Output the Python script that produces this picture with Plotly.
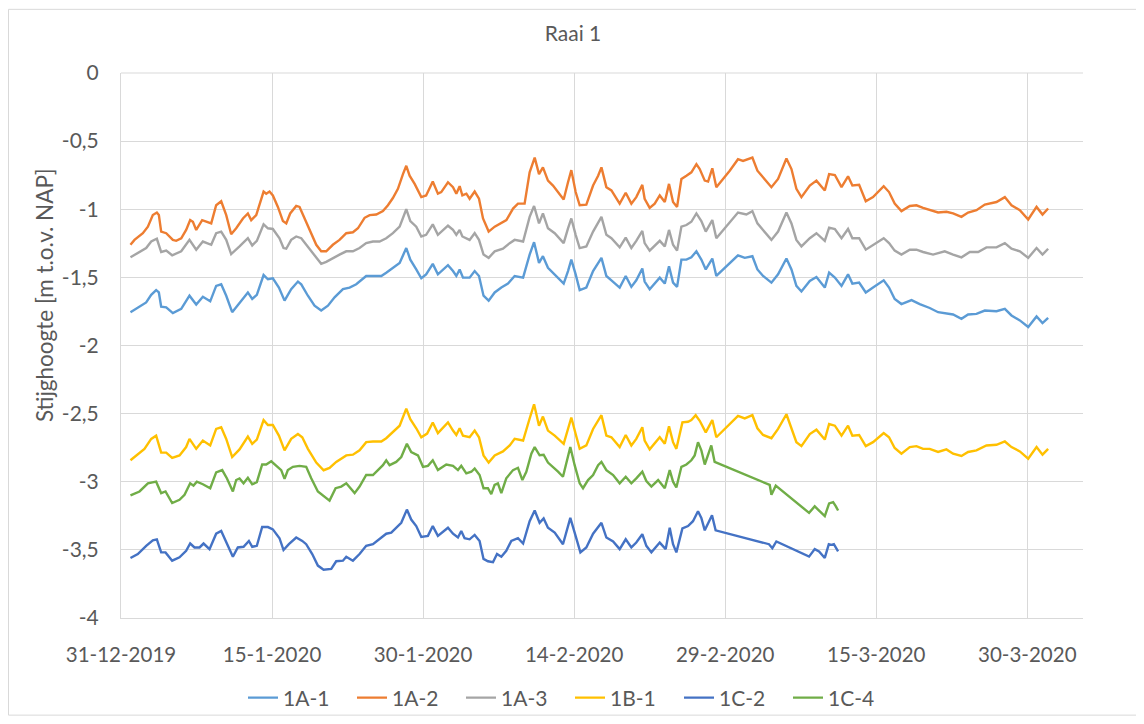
import pandas as pd
import plotly.graph_objects as go

# ---------------- data (days after 31-12-2019 00:00, head in m t.o.v. NAP) ----------------
BASE_DATE = "2019-12-31"

d_1A1 = [0.94, 1.67, 2.5, 3.0, 3.49, 3.76, 3.99, 4.49, 5.15, 5.98, 6.8, 7.47, 8.13, 8.86, 9.45, 9.95,
         10.45, 11.04, 11.77, 12.6, 13.03, 13.49, 14.16, 14.59, 15.08, 15.68, 16.24, 16.9, 17.57, 17.9,
         18.56, 19.22, 19.88, 20.55, 21.21, 22.04, 22.7, 23.36, 24.35, 25.02, 25.85, 26.34, 27.0, 27.67,
         28.33, 28.73, 29.32, 29.82, 30.3, 30.96, 31.47, 32.47, 32.97, 33.3, 33.63, 33.96, 34.62, 35.12,
         35.55, 36.0, 36.51, 37.11, 37.77, 38.43, 39.09, 39.93, 40.58, 41.02, 41.51, 41.9, 42.4, 43.07,
         43.96, 44.39, 44.72, 45.15, 45.55, 46.21, 46.88, 47.71, 48.2, 48.7, 49.52, 50.12, 50.68, 51.17,
         51.77, 52.0, 52.5, 53.5, 54.0, 54.42, 54.82, 55.22, 55.65, 56.15, 56.64, 57.14, 57.63, 58.07,
         58.72, 59.12, 60.45, 61.27, 61.94, 62.7, 63.2, 63.76, 64.59, 65.25, 66.08, 66.58, 67.07, 67.57,
         68.4, 69.06, 69.89, 70.32, 70.89, 71.55, 72.2, 72.63, 73.3, 73.96, 74.68, 75.74, 76.27, 76.83,
         77.5, 78.5, 79.32, 80.31, 81.14, 81.97, 82.63, 83.46, 84.12, 84.95, 85.78, 86.94, 87.77, 88.43,
         89.26, 90.09, 90.92, 91.51, 92.07]
v_1A1 = [-1.756, -1.720, -1.684, -1.628, -1.594, -1.611, -1.715, -1.720, -1.763, -1.732, -1.635, -1.700,
         -1.643, -1.676, -1.563, -1.551, -1.635, -1.756, -1.691, -1.611, -1.659, -1.628, -1.483, -1.514,
         -1.507, -1.575, -1.671, -1.587, -1.531, -1.551, -1.635, -1.708, -1.744, -1.708, -1.647, -1.587,
         -1.575, -1.551, -1.490, -1.490, -1.490, -1.466, -1.430, -1.394, -1.285, -1.370, -1.442, -1.507,
         -1.478, -1.401, -1.478, -1.411, -1.454, -1.490, -1.442, -1.502, -1.502, -1.454, -1.490, -1.635,
         -1.671, -1.611, -1.575, -1.546, -1.490, -1.502, -1.333, -1.242, -1.394, -1.345, -1.430, -1.478,
         -1.546, -1.454, -1.370, -1.478, -1.594, -1.575, -1.454, -1.357, -1.490, -1.522, -1.575, -1.490,
         -1.570, -1.522, -1.435, -1.531, -1.587, -1.502, -1.546, -1.418, -1.539, -1.570, -1.370, -1.370,
         -1.353, -1.309, -1.370, -1.442, -1.362, -1.490, -1.394, -1.338, -1.357, -1.345, -1.442, -1.490,
         -1.539, -1.478, -1.362, -1.442, -1.563, -1.604, -1.527, -1.498, -1.575, -1.466, -1.502, -1.563,
         -1.478, -1.546, -1.539, -1.611, -1.575, -1.522, -1.575, -1.659, -1.696, -1.667, -1.696, -1.725,
         -1.756, -1.763, -1.773, -1.804, -1.773, -1.768, -1.744, -1.749, -1.732, -1.780, -1.816, -1.865,
         -1.787, -1.836, -1.797]

d_1A2 = [0.94, 1.34, 2.17, 2.67, 3.16, 3.56, 3.76, 3.99, 4.49, 5.15, 5.48, 5.98, 6.47, 6.87, 7.14, 7.47,
         8.06, 8.53, 8.96, 9.45, 9.95, 10.45, 10.94, 11.44, 12.11, 12.6, 12.93, 13.43, 13.76, 14.16, 14.42,
         14.75, 15.08, 15.58, 16.08, 16.41, 16.8, 17.4, 17.73, 18.23, 18.73, 19.39, 19.88, 20.38, 21.04,
         21.7, 22.37, 23.03, 23.53, 24.19, 24.69, 25.35, 26.01, 26.51, 27.0, 27.5, 28.0, 28.33, 28.66,
         29.16, 29.82, 30.3, 30.96, 31.47, 31.8, 32.47, 32.97, 33.3, 33.63, 33.9, 34.3, 34.62, 35.12,
         35.55, 35.95, 36.51, 37.11, 37.77, 38.27, 38.93, 39.42, 40.08, 40.58, 41.08, 41.51, 41.9, 42.4,
         42.9, 43.57, 43.96, 44.39, 44.72, 45.15, 45.55, 46.21, 46.88, 47.38, 47.71, 48.2, 48.7, 49.52,
         50.12, 50.68, 51.17, 51.77, 52.0, 52.5, 53.0, 53.5, 54.0, 54.42, 54.82, 55.22, 55.65, 56.15,
         56.64, 57.14, 57.47, 57.97, 58.3, 58.72, 59.12, 60.45, 61.27, 61.77, 62.7, 63.2, 63.76, 64.59,
         65.25, 66.08, 66.58, 67.07, 67.57, 68.4, 69.06, 69.89, 70.32, 70.89, 71.55, 72.2, 72.63, 73.3,
         73.96, 74.68, 75.74, 76.27, 76.83, 77.5, 78.33, 78.99, 79.65, 80.31, 81.14, 81.97, 82.63, 83.46,
         84.12, 84.95, 85.78, 86.94, 87.77, 88.43, 89.26, 90.09, 90.92, 91.51, 92.07]
v_1A2 = [-1.261, -1.225, -1.176, -1.128, -1.043, -1.024, -1.043, -1.164, -1.176, -1.225, -1.232, -1.213,
         -1.152, -1.080, -1.092, -1.152, -1.080, -1.092, -1.104, -0.971, -0.942, -1.043, -1.184, -1.140,
         -1.068, -1.031, -1.080, -1.043, -0.971, -0.870, -0.886, -0.870, -0.899, -0.983, -1.087, -1.104,
         -1.031, -0.976, -0.983, -1.068, -1.140, -1.261, -1.309, -1.309, -1.261, -1.225, -1.176, -1.169,
         -1.140, -1.063, -1.043, -1.039, -1.014, -0.971, -0.918, -0.850, -0.742, -0.681, -0.754, -0.814,
         -0.911, -0.899, -0.797, -0.886, -0.874, -0.802, -0.838, -0.886, -0.831, -0.899, -0.886, -0.923,
         -0.870, -0.923, -1.068, -1.164, -1.128, -1.104, -1.080, -0.995, -0.959, -0.959, -0.729, -0.621,
         -0.742, -0.693, -0.790, -0.826, -0.886, -0.928, -0.802, -0.713, -0.874, -0.971, -0.966, -0.826,
         -0.754, -0.693, -0.838, -0.862, -0.959, -0.879, -0.959, -0.911, -0.821, -0.923, -0.990, -0.959,
         -0.899, -0.947, -0.814, -0.947, -0.983, -0.778, -0.754, -0.729, -0.669, -0.705, -0.790, -0.797,
         -0.700, -0.838, -0.717, -0.633, -0.645, -0.621, -0.717, -0.766, -0.838, -0.778, -0.628, -0.705,
         -0.850, -0.911, -0.826, -0.790, -0.862, -0.742, -0.749, -0.838, -0.758, -0.826, -0.821, -0.942,
         -0.911, -0.831, -0.874, -0.959, -1.014, -0.976, -0.971, -0.990, -1.007, -1.024, -1.019, -1.031,
         -1.056, -1.024, -1.007, -0.966, -0.947, -0.911, -0.971, -1.007, -1.075, -0.983, -1.039, -0.995]

d_1A3 = [0.94, 1.84, 2.5, 3.0, 3.56, 3.99, 4.49, 5.08, 5.98, 6.8, 7.47, 8.13, 8.96, 9.45, 9.95, 10.45,
         10.94, 11.77, 12.6, 13.03, 13.49, 14.16, 14.59, 15.08, 15.74, 16.14, 16.41, 16.9, 17.4, 17.9,
         18.39, 19.06, 19.88, 20.38, 21.04, 21.7, 22.37, 23.03, 23.69, 24.35, 25.02, 25.68, 26.34, 27.0,
         27.67, 28.33, 28.73, 29.32, 29.82, 30.3, 30.96, 31.47, 32.47, 32.97, 33.3, 33.63, 33.9, 34.62,
         35.12, 35.55, 36.0, 36.51, 37.11, 37.93, 38.6, 39.09, 39.93, 40.58, 41.02, 41.51, 41.9, 42.4,
         43.07, 43.96, 44.39, 44.72, 45.15, 45.55, 46.21, 46.88, 47.71, 48.2, 48.7, 49.52, 50.12, 50.68,
         51.17, 51.77, 52.0, 52.5, 53.5, 54.0, 54.42, 54.82, 55.22, 55.65, 56.15, 56.64, 57.14, 57.63,
         58.07, 58.72, 59.12, 60.45, 61.27, 62.1, 62.7, 63.2, 63.76, 64.59, 65.25, 66.08, 66.58, 67.07,
         67.57, 68.4, 69.06, 69.89, 70.32, 70.89, 71.55, 72.2, 72.63, 73.3, 73.96, 74.68, 75.74, 76.27,
         76.83, 77.5, 78.33, 78.99, 79.65, 80.64, 81.8, 82.63, 83.46, 84.29, 85.12, 85.94, 86.94, 87.77,
         88.43, 89.26, 90.09, 90.92, 91.51, 92.07]
v_1A3 = [-1.353, -1.314, -1.285, -1.237, -1.217, -1.314, -1.304, -1.338, -1.309, -1.225, -1.297, -1.237,
         -1.261, -1.176, -1.164, -1.225, -1.329, -1.273, -1.213, -1.266, -1.232, -1.111, -1.140, -1.145,
         -1.213, -1.285, -1.290, -1.225, -1.200, -1.213, -1.261, -1.321, -1.401, -1.386, -1.357, -1.333,
         -1.309, -1.309, -1.285, -1.249, -1.237, -1.237, -1.213, -1.176, -1.128, -1.000, -1.087, -1.128,
         -1.200, -1.188, -1.111, -1.188, -1.121, -1.152, -1.188, -1.152, -1.200, -1.225, -1.176, -1.225,
         -1.333, -1.357, -1.309, -1.290, -1.249, -1.225, -1.237, -1.056, -0.976, -1.104, -1.031, -1.140,
         -1.176, -1.249, -1.140, -1.068, -1.188, -1.285, -1.273, -1.164, -1.056, -1.188, -1.213, -1.280,
         -1.208, -1.285, -1.232, -1.159, -1.249, -1.304, -1.232, -1.273, -1.152, -1.261, -1.304, -1.128,
         -1.116, -1.092, -1.031, -1.087, -1.164, -1.080, -1.213, -1.092, -1.024, -1.039, -1.014, -1.104,
         -1.152, -1.225, -1.164, -1.024, -1.104, -1.225, -1.273, -1.213, -1.176, -1.232, -1.135, -1.145,
         -1.213, -1.145, -1.213, -1.213, -1.297, -1.261, -1.213, -1.249, -1.304, -1.333, -1.297, -1.297,
         -1.314, -1.333, -1.309, -1.333, -1.353, -1.314, -1.314, -1.280, -1.280, -1.249, -1.290, -1.309,
         -1.357, -1.285, -1.333, -1.290]

d_1B1 = [0.94, 1.5, 2.33, 3.0, 3.49, 3.99, 4.49, 5.08, 5.81, 6.47, 6.8, 7.47, 8.13, 8.86, 9.45, 9.95,
         10.45, 11.04, 11.77, 12.6, 13.03, 13.49, 14.16, 14.59, 15.08, 15.68, 16.24, 16.9, 17.57, 18.0,
         18.56, 19.39, 20.12, 20.71, 21.37, 22.37, 23.03, 23.69, 24.35, 25.02, 25.85, 26.34, 27.0, 27.67,
         28.33, 28.73, 29.32, 29.82, 30.4, 30.96, 31.47, 32.47, 32.97, 33.3, 33.63, 33.96, 34.62, 35.12,
         35.55, 36.0, 36.51, 37.11, 37.93, 38.6, 39.09, 39.93, 40.58, 41.02, 41.51, 41.9, 42.4, 43.07,
         43.96, 44.39, 44.72, 45.15, 45.55, 46.21, 46.88, 47.71, 48.2, 48.7, 49.52, 50.12, 50.68, 51.17,
         51.77, 52.0, 52.5, 53.5, 54.0, 54.42, 54.82, 55.15, 55.75, 56.31, 56.64, 57.07, 57.47, 58.07,
         58.72, 59.12, 60.45, 61.27, 61.94, 62.7, 63.2, 63.76, 64.59, 65.25, 66.08, 66.58, 67.07, 67.57,
         68.4, 69.06, 69.89, 70.32, 70.89, 71.55, 72.2, 72.63, 73.3, 73.96, 74.68, 75.74, 76.27, 76.83,
         77.5, 78.33, 78.99, 79.65, 80.31, 81.14, 81.97, 82.63, 83.46, 84.12, 84.95, 85.94, 86.94, 87.77,
         88.43, 89.26, 90.09, 90.92, 91.51, 92.07]
v_1B1 = [-2.843, -2.807, -2.759, -2.686, -2.662, -2.787, -2.787, -2.826, -2.807, -2.746, -2.686, -2.759,
         -2.698, -2.734, -2.613, -2.601, -2.686, -2.819, -2.763, -2.669, -2.722, -2.691, -2.548, -2.584,
         -2.584, -2.662, -2.770, -2.686, -2.650, -2.674, -2.759, -2.860, -2.916, -2.899, -2.855, -2.807,
         -2.802, -2.770, -2.710, -2.705, -2.705, -2.681, -2.638, -2.589, -2.464, -2.541, -2.608, -2.674,
         -2.647, -2.565, -2.643, -2.565, -2.625, -2.657, -2.608, -2.662, -2.674, -2.625, -2.674, -2.807,
         -2.860, -2.807, -2.778, -2.734, -2.686, -2.698, -2.536, -2.432, -2.589, -2.522, -2.625, -2.662,
         -2.722, -2.613, -2.529, -2.650, -2.759, -2.734, -2.613, -2.512, -2.662, -2.674, -2.746, -2.657,
         -2.734, -2.686, -2.601, -2.698, -2.763, -2.674, -2.722, -2.594, -2.710, -2.759, -2.565, -2.560,
         -2.548, -2.512, -2.553, -2.638, -2.548, -2.674, -2.577, -2.517, -2.536, -2.512, -2.608, -2.657,
         -2.681, -2.613, -2.505, -2.601, -2.710, -2.739, -2.650, -2.618, -2.691, -2.577, -2.589, -2.662,
         -2.589, -2.662, -2.657, -2.739, -2.710, -2.643, -2.674, -2.753, -2.795, -2.746, -2.739, -2.759,
         -2.759, -2.782, -2.763, -2.795, -2.811, -2.782, -2.770, -2.734, -2.729, -2.705, -2.746, -2.778,
         -2.831, -2.746, -2.802, -2.759]

d_1C2 = [0.94, 1.67, 2.5, 3.16, 3.56, 3.99, 4.42, 5.08, 5.81, 6.47, 6.87, 7.3, 7.8, 8.2, 8.79, 9.45,
         9.95, 10.51, 11.11, 11.6, 12.17, 12.7, 13.03, 13.49, 14.02, 14.59, 15.08, 15.74, 16.14, 16.67,
         17.4, 18.0, 18.39, 18.99, 19.55, 20.12, 20.88, 21.37, 22.04, 22.37, 23.03, 23.69, 24.35, 25.02,
         25.51, 26.01, 26.34, 26.84, 27.33, 27.83, 28.39, 28.82, 29.32, 29.82, 30.48, 30.96, 31.47, 32.47,
         32.97, 33.46, 33.79, 34.12, 34.62, 35.12, 35.61, 36.0, 36.44, 36.94, 37.34, 37.77, 38.26, 38.76,
         39.42, 39.93, 40.58, 41.08, 41.57, 41.97, 42.4, 43.07, 43.89, 44.29, 44.62, 45.05, 45.62, 46.21,
         46.88, 47.71, 48.2, 48.87, 49.52, 50.12, 50.68, 51.17, 51.77, 52.17, 52.67, 53.5, 54.09, 54.49,
         54.82, 55.15, 55.75, 56.31, 56.8, 57.3, 57.63, 57.97, 58.3, 58.69, 59.05, 64.35, 64.68, 65.08,
         68.33, 68.89, 69.32, 69.89, 70.29, 70.55, 70.79, 71.21]
v_1C2 = [-3.560, -3.531, -3.471, -3.430, -3.423, -3.519, -3.519, -3.580, -3.555, -3.507, -3.454, -3.483,
         -3.483, -3.454, -3.495, -3.382, -3.362, -3.459, -3.551, -3.483, -3.478, -3.435, -3.478, -3.471,
         -3.333, -3.333, -3.350, -3.415, -3.502, -3.459, -3.410, -3.435, -3.459, -3.531, -3.616, -3.647,
         -3.640, -3.584, -3.580, -3.551, -3.580, -3.531, -3.471, -3.459, -3.430, -3.406, -3.382, -3.374,
         -3.338, -3.302, -3.205, -3.278, -3.326, -3.406, -3.398, -3.326, -3.398, -3.338, -3.382, -3.410,
         -3.362, -3.415, -3.423, -3.391, -3.435, -3.567, -3.584, -3.591, -3.531, -3.551, -3.507, -3.435,
         -3.415, -3.454, -3.290, -3.212, -3.302, -3.270, -3.338, -3.374, -3.459, -3.350, -3.266, -3.374,
         -3.519, -3.483, -3.382, -3.302, -3.410, -3.439, -3.495, -3.423, -3.483, -3.447, -3.386, -3.471,
         -3.519, -3.447, -3.495, -3.338, -3.459, -3.519, -3.343, -3.326, -3.290, -3.217, -3.266, -3.357,
         -3.302, -3.246, -3.357, -3.459, -3.488, -3.439, -3.550, -3.495, -3.512, -3.560, -3.459, -3.464,
         -3.459, -3.512]

d_1C4 = [0.94, 1.84, 2.67, 3.49, 3.99, 4.42, 5.08, 5.81, 6.31, 6.87, 7.2, 7.53, 8.13, 8.86, 9.45, 10.05,
         10.51, 11.11, 11.44, 11.77, 12.17, 12.6, 13.03, 13.49, 14.02, 14.42, 14.92, 15.41, 15.91, 16.24,
         16.57, 17.07, 17.73, 18.39, 18.89, 19.55, 20.12, 20.71, 21.31, 21.87, 22.37, 22.87, 23.2, 23.69,
         24.35, 25.02, 25.51, 26.01, 26.34, 26.67, 27.33, 27.83, 28.39, 28.82, 29.49, 29.99, 30.48, 30.96,
         31.47, 32.3, 32.97, 33.46, 33.79, 34.29, 34.79, 35.12, 35.61, 36.0, 36.44, 36.77, 37.1, 37.43,
         37.77, 38.26, 38.93, 39.42, 39.86, 40.25, 40.75, 41.08, 41.57, 41.97, 42.4, 42.9, 43.4, 43.89,
         44.29, 44.62, 45.05, 45.55, 45.88, 46.38, 46.88, 47.38, 47.71, 48.2, 48.87, 49.52, 50.12, 50.68,
         51.17, 51.77, 52.17, 52.67, 53.0, 53.34, 54.0, 54.49, 54.82, 55.15, 55.65, 56.15, 56.64, 56.97,
         57.3, 57.63, 57.97, 58.3, 58.62, 58.95, 64.42, 64.59, 65.02, 68.33, 68.89, 69.22, 69.89, 70.32,
         70.72, 70.99, 71.21]
v_1C4 = [-3.101, -3.072, -3.012, -3.000, -3.084, -3.072, -3.157, -3.133, -3.096, -3.012, -3.029, -3.000,
         -3.019, -3.048, -2.932, -2.915, -2.975, -3.072, -2.988, -2.976, -3.012, -2.971, -3.019, -3.004,
         -2.874, -2.874, -2.850, -2.879, -2.915, -2.980, -2.915, -2.891, -2.884, -2.891, -2.975, -3.072,
         -3.108, -3.139, -3.048, -3.036, -3.012, -3.060, -3.084, -3.036, -2.951, -2.951, -2.915, -2.879,
         -2.843, -2.879, -2.855, -2.819, -2.722, -2.782, -2.807, -2.891, -2.884, -2.843, -2.915, -2.874,
         -2.884, -2.915, -2.884, -2.939, -2.927, -2.903, -2.951, -3.048, -3.048, -3.092, -3.024, -3.012,
         -3.084, -2.975, -2.915, -2.898, -2.988, -2.927, -2.795, -2.746, -2.806, -2.802, -2.860, -2.891,
         -2.927, -2.964, -2.843, -2.746, -2.879, -3.012, -3.048, -2.988, -2.951, -2.879, -2.855, -2.915,
         -2.951, -3.012, -2.964, -3.012, -2.976, -2.927, -2.995, -3.036, -3.012, -2.988, -3.048, -2.915,
         -3.000, -3.043, -2.891, -2.874, -2.843, -2.807, -2.710, -2.770, -2.874, -2.807, -2.734, -2.855,
         -3.024, -3.096, -3.029, -3.229, -3.181, -3.205, -3.253, -3.160, -3.150, -3.181, -3.212]

series_names = ["1A-1", "1A-2", "1A-3", "1B-1", "1C-2", "1C-4"]
series_days = [d_1A1, d_1A2, d_1A3, d_1B1, d_1C2, d_1C4]
series_vals = [v_1A1, v_1A2, v_1A3, v_1B1, v_1C2, v_1C4]
series_colors = ["#5B9BD5", "#ED7D31", "#A5A5A5", "#FFC000", "#4472C4", "#70AD47"]

x_tick_dates = ["2019-12-31", "2020-01-15", "2020-01-30", "2020-02-14", "2020-02-29", "2020-03-15", "2020-03-30"]
x_tick_labels = ["31-12-2019", "15-1-2020", "30-1-2020", "14-2-2020", "29-2-2020", "15-3-2020", "30-3-2020"]
y_tick_vals = [0, -0.5, -1, -1.5, -2, -2.5, -3, -3.5, -4]
y_tick_labels = ["0", "-0,5", "-1", "-1,5", "-2", "-2,5", "-3", "-3,5", "-4"]

# ---------------- figure ----------------
# The page body adds an 8 px offset, so the figure is sized to fit the window.
OFF = 8
W, H = 1144 - OFF, 724 - OFF
ML, MT = 121 - OFF, 73 - OFF
MR = W - (1083 - OFF)
MB = H - (625 - OFF)
PW, PH = W - ML - MR, H - MT - MB
FONT = "Lato, Calibri, 'Noto Sans', sans-serif"
TXT = "#595959"
GRID = "#D9D9D9"
FS = 20.5

base = pd.Timestamp(BASE_DATE)
fig = go.Figure()
for name, days, vals, col in zip(series_names, series_days, series_vals, series_colors):
    xs = base + pd.to_timedelta(days, unit="D")
    fig.add_trace(go.Scatter(x=xs, y=vals, mode="lines", name=name,
                             line=dict(color=col, width=2.4)))

def sx(px):  # screen px -> paper x
    return (px - OFF - ML) / PW

def sy(py):  # screen px -> paper y
    return (H - MB - (py - OFF)) / PH

fig.update_layout(
    width=W, height=H,
    margin=dict(l=ML, r=MR, t=MT, b=MB),
    paper_bgcolor="white", plot_bgcolor="white",
    font=dict(family=FONT, color=TXT, size=FS),
    title=dict(text="Raai 1", x=(573 - OFF) / W, xref="container", xanchor="center",
               y=1 - (34 - OFF) / H, yref="container", yanchor="middle",
               font=dict(family=FONT, size=21, color=TXT)),
    showlegend=True,
    legend=dict(orientation="h", x=(570 - OFF) / W, xref="container", xanchor="center",
                y=1 - (698 - OFF) / H, yref="container", yanchor="middle",
                font=dict(family=FONT, size=21, color=TXT),
                entrywidth=64, entrywidthmode="pixels",
                bgcolor="rgba(0,0,0,0)"),
    xaxis=dict(type="date",
               range=[base, base + pd.Timedelta(days=PW / 10.07)],
               tickvals=pd.to_datetime(x_tick_dates), ticktext=x_tick_labels,
               showgrid=True, gridcolor=GRID, gridwidth=1,
               showline=True, linecolor=GRID, linewidth=1,
               zeroline=False, ticks="", ticklabelstandoff=18,
               tickfont=dict(family=FONT, size=FS, color=TXT)),
    yaxis=dict(range=[-4, 0], tickvals=y_tick_vals, ticktext=y_tick_labels,
               showgrid=True, gridcolor=GRID, gridwidth=1,
               showline=True, linecolor=GRID, linewidth=1,
               zeroline=False, ticks="", ticklabelstandoff=17,
               tickfont=dict(family=FONT, size=21, color=TXT)),
    annotations=[dict(text="Stijghoogte [m t.o.v. NAP]", textangle=-90,
                      xref="paper", yref="paper",
                      x=sx(44), y=sy(298),
                      xanchor="center", yanchor="middle", showarrow=False,
                      font=dict(family=FONT, size=22.5, color=TXT))],
    shapes=[dict(type="rect", xref="paper", yref="paper",
                 x0=sx(8.5), x1=sx(1137.5),
                 y0=sy(H + OFF - 0.5), y1=sy(8.5),
                 line=dict(color=GRID, width=1), fillcolor="rgba(0,0,0,0)",
                 layer="below"),
            dict(type="line", xref="paper", yref="paper",
                 x0=0, x1=1, y0=1, y1=1,
                 line=dict(color=GRID, width=1), layer="below")],
)

fig.write_html("out.html")
